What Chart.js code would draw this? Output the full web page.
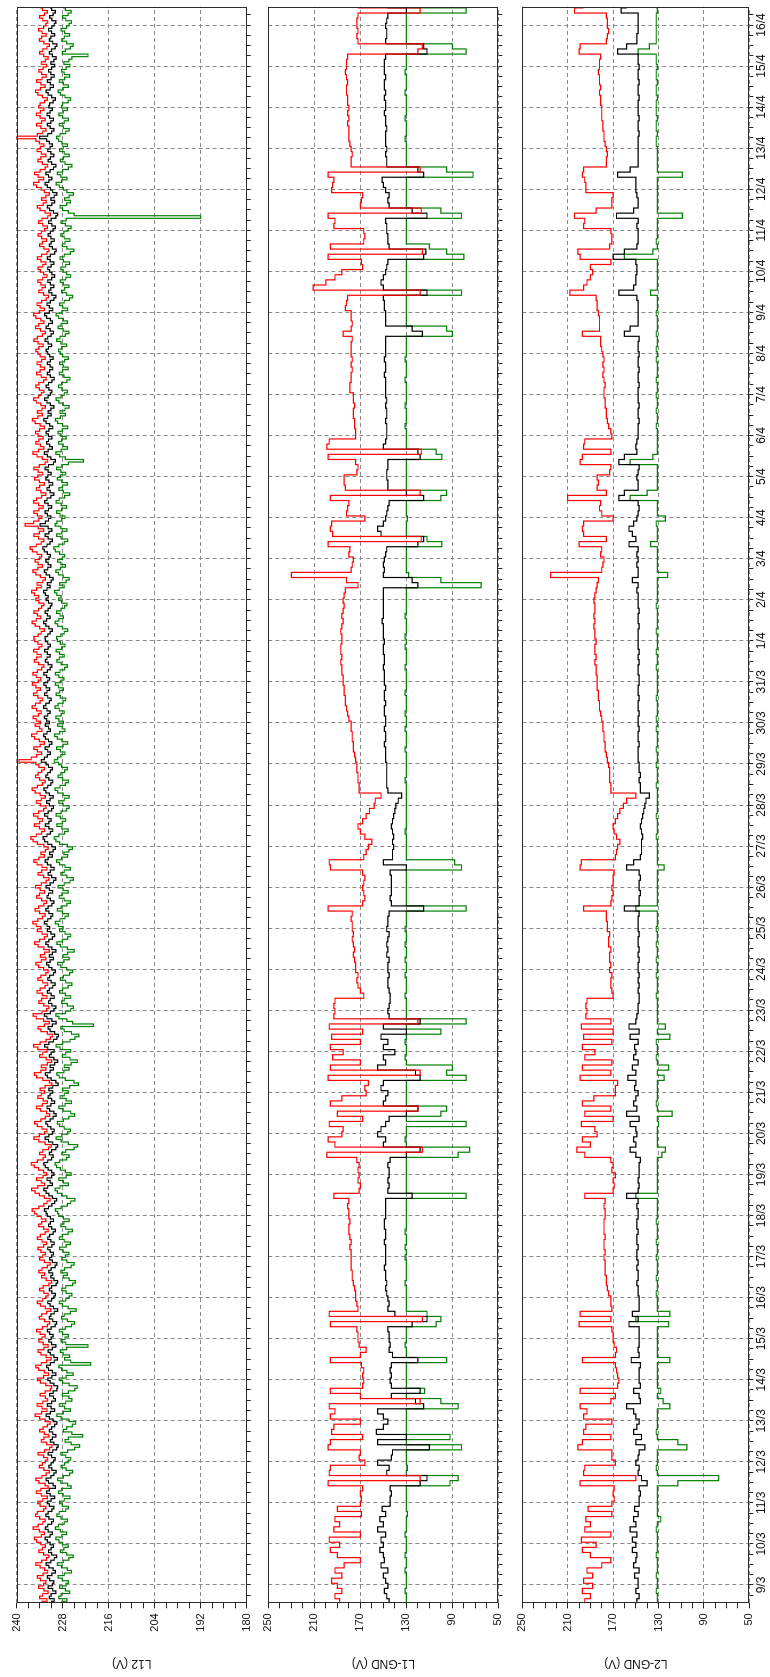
<!DOCTYPE html>
<html><head><meta charset="utf-8">
<script src="https://cdn.jsdelivr.net/npm/chart.js@4.4.1/dist/chart.umd.min.js"></script>
<style>
html,body{margin:0;padding:0;background:#fff;overflow:hidden;width:770px;height:1677px}
#rot{position:absolute;left:0;top:0;width:1677px;height:770px;transform-origin:0 0;transform:translate(0,1677px) rotate(-90deg);background:#fff}
#rot canvas{position:absolute;left:0;top:0}
</style></head><body>
<div id="rot">
<canvas id="c3" width="1677" height="770"></canvas>
<canvas id="c2" width="1677" height="770"></canvas>
<canvas id="c1" width="1677" height="770"></canvas>
</div>
<script>
// time: hours since 8/3 00:00; first sample 8/3 13:00
const START_HOUR = 13;
const L12_STEP_HOURS = 1.5;   // L12 samples every 1.5 h
const GND_STEP_HOURS = 3;     // L1-GND / L2-GND samples every 3 h
const dayLabels = ['9/3','10/3','11/3','12/3','13/3','14/3','15/3','16/3','17/3','18/3','19/3','20/3','21/3','22/3','23/3','24/3','25/3','26/3','27/3','28/3','29/3','30/3','31/3',
  '1/4','2/4','3/4','4/4','5/4','6/4','7/4','8/4','9/4','10/4','11/4','12/4','13/4','14/4','15/4','16/4'];
const l12Ticks = [240, 228, 216, 204, 192, 180];
const gndTicks = [250, 210, 170, 130, 90, 50];

// ---- L12 (V) ---- one row per day
const l12Red = [
233.4,232.1,234.0,233.2,231.8,232.9,234.3,233.0,
232.4,233.8,234.6,233.1,231.9,232.7,233.9,235.0,233.5,232.2,231.6,233.0,234.2,233.3,232.5,233.7,
234.8,235.4,233.6,232.8,234.1,235.7,234.4,233.2,232.6,234.0,235.1,234.6,233.0,232.4,233.9,234.5,
233.2,232.0,233.6,234.9,233.7,231.8,232.6,234.2,235.0,233.4,232.3,231.5,232.9,234.1,233.3,232.5,
231.9,233.0,234.4,232.7,231.4,230.8,232.2,233.6,232.9,231.6,232.8,234.0,233.1,232.0,231.3,232.6,
234.0,235.2,233.5,232.1,233.4,234.7,233.2,231.9,232.5,233.9,232.6,231.2,230.9,232.4,233.8,234.6,
233.0,231.7,232.8,234.3,235.0,233.6,232.2,231.0,232.3,233.7,234.4,232.9,231.8,233.1,234.2,233.4,
232.6,233.9,234.8,233.3,232.0,231.4,232.7,234.1,233.5,232.2,231.1,232.5,233.8,234.6,233.2,232.4,
231.8,232.9,234.0,233.1,231.6,230.9,232.3,233.5,232.7,234.2,233.4,232.0,231.3,232.8,234.0,233.2,
232.5,233.7,234.5,233.0,232.2,233.4,234.6,233.8,232.6,231.8,233.0,234.3,233.5,232.4,233.6,234.7,
235.3,236.0,234.2,232.9,232.1,231.3,232.8,234.1,235.2,236.1,234.5,232.7,233.6,234.8,233.1,232.2,
233.0,234.3,235.4,236.2,234.6,233.1,232.5,234.0,233.2,231.7,231.0,232.6,234.2,235.5,234.1,232.8,
232.1,233.4,234.6,235.3,233.7,232.5,231.4,232.2,233.8,234.9,233.3,232.0,233.1,234.5,233.6,232.7,
233.9,232.6,230.8,231.5,233.2,234.8,235.4,233.7,232.4,233.6,232.0,230.9,232.3,234.0,233.2,232.1,
234.5,235.6,233.9,232.3,231.2,230.6,232.0,233.7,234.4,232.8,231.5,233.0,234.9,235.7,233.4,232.2,
231.6,232.9,234.2,233.5,232.1,233.3,234.7,233.9,232.6,231.9,233.2,234.5,233.7,232.4,231.8,233.0,
234.3,235.0,233.6,232.4,233.8,232.7,231.5,232.9,234.4,235.3,234.0,232.8,232.0,233.4,234.6,233.7,
234.9,235.8,234.5,233.3,232.6,234.0,235.2,234.3,232.9,232.2,233.5,234.8,234.1,232.7,233.9,235.1,
233.6,232.3,231.6,233.0,234.4,233.5,232.1,233.4,234.7,235.5,234.2,232.8,233.7,232.5,231.8,232.9,
234.6,235.7,236.3,234.9,233.5,232.7,234.1,235.4,234.0,233.2,234.5,235.6,234.3,233.0,232.4,233.8,
234.9,233.6,232.5,233.9,235.2,236.0,234.6,233.3,232.6,234.0,235.1,234.4,233.5,232.8,234.2,235.0,
239.4,236.2,234.8,233.5,234.6,235.5,233.9,232.8,234.1,235.3,236.1,234.7,233.4,234.0,235.2,233.8,
234.9,235.7,234.3,233.6,234.8,236.0,235.1,233.9,233.2,234.5,235.6,234.7,233.8,235.0,235.9,234.4,
233.7,234.9,235.8,234.6,233.5,232.9,234.3,235.4,234.8,233.6,234.7,235.6,234.2,233.4,234.5,235.3,
235.5,234.4,233.6,232.8,234.0,235.2,236.0,234.9,233.7,234.6,235.5,234.3,233.5,232.9,234.2,235.0,
234.3,235.4,236.1,234.8,233.6,234.7,233.2,232.5,233.8,235.0,235.8,234.5,233.3,234.4,235.2,234.0,
233.5,234.7,235.9,236.5,234.9,233.6,232.9,234.3,235.5,234.1,233.0,234.4,237.8,235.6,234.2,233.4,
234.6,235.5,234.2,233.1,234.3,235.6,234.8,233.5,232.4,233.7,234.9,234.0,232.8,234.1,235.3,234.5,
233.2,234.4,235.5,234.1,232.6,231.9,233.3,234.7,235.8,234.3,232.9,233.8,235.0,234.2,233.1,234.4,
235.1,234.0,232.8,233.9,235.2,235.9,234.5,233.3,234.6,233.4,232.5,233.7,234.9,235.6,234.3,233.6,
232.9,234.1,235.0,234.2,233.0,232.3,233.6,234.8,233.9,232.7,233.8,234.7,233.5,232.6,233.9,234.5,
235.0,234.2,233.1,234.4,235.5,234.6,233.3,232.5,233.8,235.1,234.3,232.9,233.7,235.0,235.6,234.1,
232.8,233.9,234.7,233.5,232.3,231.7,233.0,234.2,233.4,232.5,233.7,234.5,233.2,232.1,233.0,233.8,
234.4,233.2,232.4,233.7,234.6,233.5,232.1,231.6,232.9,234.0,233.3,232.2,233.5,234.4,233.6,232.7,
232.0,233.2,234.3,233.4,231.9,231.2,232.6,233.9,234.6,233.1,232.3,233.5,232.4,231.5,232.8,233.6,
234.8,235.6,234.2,233.0,234.4,235.3,233.9,232.6,231.9,233.3,234.5,233.7,232.4,233.6,234.7,233.8,
232.9,234.1,235.0,240.0,234.6,233.2,232.4,233.7,234.8,233.5,232.6,233.9,234.9,233.8,232.9,234.2,
233.9,232.7,232.0,233.3,234.5,235.1,233.8,232.6,233.7,234.8,233.4,232.3,233.5,234.2,233.1,232.2,
233.6,232.5,231.8,233.0,234.0,233.2,232.1,231.5,232.9,234.1,233.5,232.3,233.4,234.3,233.0,232.4,
231.9,233.2,234.0,232.8,232.0,233.3,233.9];
const l12Black = [
230.9,230.2,231.5,231.0,229.8,230.6,231.8,230.7,
230.3,231.4,232.0,230.8,229.9,230.5,231.6,232.3,231.1,230.2,229.6,230.9,231.7,231.0,230.4,231.3,
232.0,232.6,231.3,230.7,231.8,232.5,231.9,230.9,230.4,231.6,232.4,231.8,230.8,230.3,231.5,232.0,
231.0,230.1,231.3,232.2,231.5,229.9,230.5,231.7,232.3,231.1,230.3,229.7,230.8,231.6,231.0,230.4,
230.0,230.9,231.8,230.6,229.6,229.2,230.3,231.2,230.7,229.8,230.6,231.5,230.9,230.1,229.5,230.5,
231.5,232.3,231.2,230.1,231.0,232.0,230.9,229.9,230.4,231.4,230.5,229.5,229.3,230.3,231.3,231.9,
230.8,229.8,230.7,231.7,232.2,231.2,230.2,229.4,230.3,231.2,231.8,230.7,229.8,230.9,231.6,231.0,
230.5,231.4,232.0,231.0,230.0,229.6,230.6,231.5,231.1,230.2,229.3,230.4,231.3,231.9,230.9,230.3,
229.9,230.8,231.5,230.9,229.7,229.3,230.3,231.1,230.6,231.6,231.0,230.0,229.5,230.7,231.4,230.9,
230.4,231.3,231.9,230.8,230.2,231.1,231.9,231.4,230.5,229.9,230.9,231.7,231.2,230.4,231.2,232.0,
232.3,232.8,231.7,230.8,230.1,229.6,230.7,231.6,232.3,232.9,231.9,230.7,231.3,232.1,230.9,230.3,
230.9,231.8,232.5,232.9,231.9,230.9,230.5,231.5,230.9,229.8,229.3,230.6,231.7,232.6,231.6,230.7,
230.2,231.1,231.9,232.4,231.3,230.5,229.7,230.3,231.4,232.1,231.1,230.1,230.9,231.8,231.3,230.6,
231.6,230.6,229.2,229.8,231.0,232.0,232.5,231.3,230.4,231.3,230.1,229.3,230.3,231.5,231.0,230.2,
231.9,232.7,231.6,230.4,229.5,229.1,230.1,231.3,231.8,230.7,229.7,230.8,232.1,232.8,231.2,230.3,
229.8,230.8,231.7,231.3,230.2,231.0,232.0,231.5,230.6,230.0,231.0,231.9,231.4,230.4,229.9,230.8,
231.6,232.2,231.3,230.4,231.5,230.7,229.8,230.8,231.8,232.4,231.6,230.7,230.1,231.1,232.0,231.4,
232.1,232.8,231.9,231.1,230.6,231.6,232.4,231.8,230.8,230.3,231.2,232.1,231.7,230.6,231.5,232.3,
231.3,230.4,229.8,230.9,231.8,231.2,230.2,231.1,232.0,232.6,231.8,230.7,231.4,230.5,229.9,230.8,
231.9,232.7,233.1,232.1,231.2,230.6,231.6,232.5,231.6,231.0,231.9,232.7,231.8,230.9,230.4,231.5,
232.2,231.3,230.5,231.5,232.4,232.9,231.9,231.1,230.6,231.6,232.4,231.9,231.2,230.7,231.7,232.3,
233.6,232.8,232.0,231.2,231.9,232.6,231.5,230.8,231.7,232.5,233.0,232.1,231.2,231.7,232.5,231.5,
232.2,232.8,231.9,231.3,232.1,233.0,232.4,231.5,231.0,231.9,232.7,232.1,231.4,232.3,232.9,231.9,
231.4,232.2,232.9,232.0,231.3,230.8,231.8,232.5,232.1,231.3,232.0,232.7,231.8,231.2,231.9,232.5,
232.6,231.9,231.3,230.7,231.6,232.4,233.0,232.2,231.3,232.0,232.6,231.8,231.2,230.8,231.7,232.3,
231.8,232.5,233.0,232.1,231.3,232.0,231.0,230.5,231.4,232.3,232.8,231.9,231.1,231.8,232.4,231.6,
231.2,232.0,232.8,233.2,232.1,231.3,230.7,231.8,232.6,231.6,230.8,231.8,233.9,232.5,231.7,231.1,
232.0,232.6,231.7,230.9,231.8,232.7,232.1,231.1,230.3,231.3,232.1,231.5,230.6,231.6,232.4,231.9,
231.0,231.8,232.6,231.7,230.4,229.9,231.1,232.0,232.8,231.8,230.7,231.4,232.2,231.7,230.8,231.7,
232.3,231.6,230.6,231.4,232.3,232.9,231.9,231.0,231.8,231.1,230.3,231.2,232.1,232.7,231.8,231.2,
230.8,231.6,232.3,231.7,230.8,230.2,231.2,232.0,231.4,230.6,231.3,232.0,231.2,230.5,231.4,231.9,
232.3,231.7,230.9,231.8,232.6,231.9,231.0,230.4,231.3,232.3,231.7,230.7,231.2,232.2,232.7,231.5,
230.6,231.5,232.1,231.2,230.3,229.8,230.8,231.6,231.1,230.3,231.2,231.9,230.9,230.1,230.8,231.4,
231.9,231.0,230.3,231.3,232.0,231.2,230.1,229.7,230.7,231.5,231.0,230.2,231.1,231.8,231.2,230.5,
229.9,230.8,231.7,231.0,229.8,229.3,230.4,231.4,232.0,230.8,230.1,231.1,230.2,229.5,230.6,231.2,
232.0,232.6,231.6,230.8,231.7,232.4,231.3,230.4,229.8,230.9,231.8,231.2,230.3,231.1,231.9,231.3,
230.7,231.5,232.2,234.0,231.9,230.9,230.3,231.3,232.0,231.1,230.4,231.4,232.1,231.3,230.7,231.6,
231.4,230.5,229.9,230.9,231.8,232.3,231.3,230.4,231.2,232.0,231.0,230.2,231.1,231.7,230.9,230.1,
231.1,230.3,229.7,230.7,231.5,230.9,230.0,229.5,230.6,231.5,231.1,230.1,230.9,231.7,230.8,230.2,
229.8,230.8,231.4,230.5,229.9,230.9,231.3];
const l12Green = [
228.2,226.9,229.0,228.4,226.2,227.3,228.8,227.1,
226.5,228.1,229.2,227.6,225.7,226.8,228.3,229.4,227.9,226.4,225.3,227.0,228.6,227.7,226.6,228.0,
229.0,229.8,228.2,227.0,228.6,229.9,229.1,227.6,226.8,228.4,229.5,228.9,227.2,226.5,228.1,228.8,
227.6,226.1,227.9,229.1,228.3,225.8,226.7,228.5,229.3,227.8,226.2,225.4,227.1,228.4,227.5,226.6,
225.9,227.2,228.5,226.7,224.9,223.6,225.8,227.4,226.5,222.8,225.6,227.8,227.0,225.5,224.6,226.4,
228.4,229.5,227.8,226.0,227.5,228.9,227.2,225.6,226.4,228.1,226.5,224.8,224.2,226.3,228.0,228.9,
227.1,225.3,226.9,228.3,229.0,220.7,225.9,227.5,226.2,227.9,228.6,227.0,221.4,227.2,228.4,227.4,
226.5,228.0,228.9,227.3,225.7,224.9,226.8,228.3,227.6,226.0,224.5,226.6,228.1,228.9,227.2,226.3,
225.6,227.1,228.2,227.2,225.4,224.7,226.3,227.8,226.8,228.5,227.5,225.8,225.0,226.9,228.2,227.3,
226.4,227.9,228.8,227.1,226.0,227.6,228.9,228.1,226.6,225.5,227.2,228.5,227.7,226.3,227.8,229.0,
229.3,229.9,228.4,226.8,225.9,224.8,226.9,228.3,229.4,230.0,228.7,226.5,227.8,229.0,227.1,225.8,
227.3,228.6,229.6,230.0,228.8,227.0,226.3,228.2,227.2,225.0,224.1,226.5,228.4,229.7,228.2,226.7,
226.0,227.6,228.8,229.4,227.8,226.4,224.9,225.9,227.9,229.0,227.4,225.7,227.1,228.7,227.6,226.6,
228.0,226.2,223.9,225.1,227.3,228.9,229.5,227.7,226.3,227.6,225.8,224.2,226.1,228.1,227.2,225.9,
228.7,229.7,228.0,226.1,224.8,223.8,225.7,227.6,228.5,220.0,225.4,226.9,229.0,229.8,227.3,225.9,
225.2,226.8,228.3,227.6,225.9,227.3,228.8,228.0,226.6,225.6,227.2,228.6,227.8,226.2,225.4,227.0,
228.5,229.3,227.7,226.3,227.9,226.7,225.0,226.8,228.6,229.5,228.1,226.7,225.9,227.4,228.8,227.9,
229.1,229.9,228.7,227.4,226.5,228.1,229.4,228.4,226.9,226.0,227.6,228.9,228.2,226.6,227.9,229.2,
227.6,226.1,225.2,226.9,228.5,227.6,226.0,227.4,228.8,229.6,228.3,226.7,227.7,226.4,225.5,226.8,
228.8,229.8,230.2,229.0,227.5,226.6,228.2,229.5,228.1,227.2,228.6,229.7,228.4,227.0,226.3,227.9,
229.0,227.6,226.3,227.9,229.3,230.0,228.7,227.3,226.5,228.0,229.2,228.5,227.5,226.8,228.3,229.1,
230.2,229.3,228.5,227.4,228.6,229.6,227.9,226.7,228.2,229.4,230.1,228.8,227.4,228.1,229.3,227.8,
229.0,229.8,228.4,227.6,228.9,230.0,229.2,227.9,227.2,228.6,229.7,228.8,227.8,229.1,229.9,228.5,
227.7,229.0,229.9,228.7,227.5,226.8,228.4,229.5,228.9,227.6,228.8,229.7,228.3,227.4,228.6,229.4,
229.6,228.5,227.6,226.7,228.1,229.3,230.0,229.0,227.8,228.7,229.6,228.4,227.5,226.9,228.3,229.1,
228.4,229.5,230.1,228.9,227.6,228.8,227.1,226.3,227.9,229.1,229.8,228.6,227.3,228.5,229.3,228.1,
227.5,228.8,229.9,230.3,229.0,227.6,226.7,228.4,229.6,228.2,226.9,228.5,230.0,229.5,228.3,227.4,
228.7,229.6,228.3,227.0,228.4,229.7,228.9,227.5,226.2,227.8,229.0,228.1,226.8,228.2,229.4,228.6,
227.2,228.5,229.6,228.2,226.5,222.6,227.3,228.8,229.8,228.4,226.8,227.9,229.1,228.3,227.1,228.5,
229.2,228.1,226.7,228.0,229.3,229.9,228.6,227.3,228.7,227.4,226.3,227.8,229.0,229.7,228.4,227.6,
226.8,228.2,229.1,228.3,226.9,226.1,227.7,228.9,228.0,226.6,227.9,228.8,227.5,226.5,228.0,228.6,
229.1,228.3,227.0,228.5,229.6,228.7,227.3,226.4,227.9,229.2,228.4,226.8,227.8,229.1,229.7,228.2,
226.7,228.0,228.8,227.6,226.2,225.4,227.0,228.3,227.5,226.4,227.8,228.6,227.2,225.9,227.0,227.9,
228.5,227.2,226.2,227.8,228.7,227.6,226.0,225.1,226.9,228.1,227.4,226.1,227.6,228.5,227.7,226.6,
225.8,227.3,228.4,227.1,192.0,225.0,226.5,228.0,228.7,227.0,226.0,227.5,226.3,225.2,226.9,227.8,
228.9,229.7,228.3,226.9,228.5,229.4,228.0,226.5,225.6,227.4,228.6,227.8,226.3,227.6,228.8,227.9,
226.8,228.2,229.1,229.6,228.7,227.2,226.3,227.8,228.9,227.6,226.5,228.0,229.0,227.9,226.8,228.3,
228.0,226.6,225.9,227.4,228.6,229.2,227.9,226.5,227.8,228.9,227.5,226.2,227.6,228.3,227.1,226.1,
227.7,226.4,225.6,221.4,228.1,227.3,226.0,225.3,227.0,228.2,227.6,226.2,227.5,228.4,227.0,226.3,
225.7,227.2,228.0,226.6,225.8,227.3,227.9];

// ---- L1-GND (V) ---- one row per day
const l1Red = [
188,192,186,190,
195,186,192,184,170,190,196,188,
197,170,193,188,192,169,190,170,
169,170,168,198,118,197,196,166,
171,170,198,196,168,195,193,170,
196,192,197,118,170,196,168,167,
168,167,169,196,170,165,171,172,
172,173,196,116,197,172,173,174,
174,175,176,177,177,178,178,178,
178,179,178,179,180,180,179,180,
180,181,180,193,171,170,172,171,
172,171,173,199,116,192,198,186,
185,197,168,190,120,196,186,165,
166,163,198,118,196,170,194,185,
196,170,195,168,197,120,193,192,
193,192,167,170,172,173,172,174,
174,175,176,175,176,177,176,177,
177,178,177,198,168,166,167,168,
167,166,168,196,197,167,165,163,
160,166,170,172,168,165,162,158,
157,152,171,171,172,172,173,173,
174,175,176,176,177,177,178,178,
180,181,182,183,183,184,184,185,
185,186,186,187,186,187,187,186,
186,187,186,185,186,185,184,185,
184,183,172,182,230,178,177,176,
180,179,198,117,194,196,195,166,
182,181,180,196,118,183,184,184,
173,172,174,198,117,199,197,174,
174,175,175,176,176,175,176,176,
179,179,178,178,177,178,177,178,
178,178,177,185,178,177,178,178,
183,182,181,118,211,200,192,186,
168,169,198,116,196,167,166,167,
193,192,198,117,170,169,168,195,
194,193,198,118,178,178,177,178,
179,180,180,180,181,180,181,180,
181,181,182,182,181,182,183,182,
182,181,120,116,172,173,172,173,
173,172,118,172];
const l1Black = [
145,147,149,146,
148,150,146,152,149,150,153,150,
152,148,155,150,153,148,151,144,
144,143,144,118,112,147,145,155,
143,142,110,155,130,156,150,146,
150,155,115,122,143,118,143,144,
143,144,143,120,142,145,144,145,
145,146,125,112,140,146,145,146,
147,148,147,148,148,149,148,148,
148,148,149,148,148,149,149,148,
148,148,148,125,146,145,146,145,
145,146,144,130,118,150,148,155,
152,148,145,130,120,150,148,146,
152,150,118,122,155,148,150,140,
150,146,152,130,150,118,145,146,
145,144,144,145,146,146,145,146,
146,145,147,146,147,146,145,147,
146,146,145,115,143,144,143,143,
143,143,144,130,150,142,142,141,
142,141,142,143,142,141,140,139,
137,134,146,147,147,147,147,147,
148,148,148,149,148,148,149,148,
148,149,149,148,149,149,148,149,
149,149,150,149,149,150,150,149,
150,150,150,151,150,150,150,150,
150,150,120,125,150,149,150,149,
148,147,120,115,152,155,150,148,
147,146,145,115,130,146,146,147,
147,146,146,118,120,150,148,147,
147,147,148,147,147,148,147,148,
148,148,148,149,148,148,149,148,
148,148,148,116,125,148,148,148,
149,149,150,112,150,152,150,148,
147,146,115,113,145,146,146,147,
147,148,112,125,145,146,145,148,
150,151,115,120,147,147,148,147,
148,148,148,147,148,148,149,148,
148,149,148,149,149,148,149,149,
149,148,112,115,148,147,147,148,
147,146,130,146];
const l1Green = [
130,130,131,130,
130,130,131,130,130,131,130,130,
130,131,130,130,130,129,130,130,
130,130,130,92,85,130,129,130,
130,130,82,130,92,130,130,130,
130,130,85,100,130,114,130,130,
130,130,130,95,130,130,131,130,
130,130,104,100,112,130,130,130,
130,130,131,130,130,130,130,131,
130,131,130,130,131,130,130,130,
130,130,130,78,130,130,130,130,
130,130,130,85,75,130,131,130,
130,78,130,100,95,130,130,130,
130,130,78,95,90,130,131,130,
130,131,130,100,130,78,130,130,
130,130,131,130,130,130,131,130,
130,131,130,130,131,130,130,131,
130,130,130,78,130,130,130,130,
130,130,130,82,88,130,130,130,
130,130,131,130,130,130,130,130,
130,130,130,130,131,130,130,130,
130,130,131,130,130,130,131,130,
130,131,130,130,130,131,130,130,
130,130,131,130,130,130,131,130,
131,130,130,130,131,130,130,130,
130,130,65,100,128,130,130,130,
130,130,99,112,130,130,130,129,
130,130,130,100,95,130,130,130,
130,130,130,99,104,130,130,130,
130,131,130,130,130,131,130,130,
130,130,131,130,130,130,131,130,
130,130,130,90,95,130,130,130,
130,130,130,82,130,130,130,130,
130,130,80,95,110,130,130,130,
130,130,82,100,130,130,130,130,
130,130,72,95,130,130,130,130,
130,131,130,130,130,131,130,130,
130,130,131,130,130,130,131,130,
130,130,78,90,130,130,130,130,
130,130,78,130];

// ---- L2-GND (V) ---- one row per day
const l2Red = [
195,190,197,188,
196,188,193,180,172,190,197,185,
198,172,195,190,194,171,192,171,
169,170,169,199,150,196,195,168,
171,171,201,197,172,196,194,171,
196,193,199,172,168,199,166,165,
166,167,168,197,168,167,169,170,
170,171,200,172,199,171,172,172,
174,175,176,176,177,177,177,178,
177,178,178,177,178,178,178,177,
177,178,177,195,170,169,170,168,
171,170,172,195,202,190,197,184,
186,198,170,195,172,197,187,168,
168,166,199,172,197,171,195,186,
197,171,196,170,198,172,194,193,
194,193,170,171,172,172,171,173,
172,173,173,172,174,174,173,175,
175,176,176,196,172,171,170,171,
170,170,169,199,198,168,167,166,
164,167,169,170,168,166,164,161,
158,150,172,172,173,173,173,174,
175,176,177,177,178,178,179,179,
180,181,182,182,183,183,184,184,
184,185,185,186,185,186,186,185,
186,186,187,186,187,186,186,187,
186,185,184,183,225,180,179,178,
181,180,200,176,196,197,196,170,
180,182,181,210,176,184,183,184,
173,172,199,197,172,196,195,171,
172,174,175,176,176,177,177,178,
178,177,178,179,178,179,178,179,
180,181,181,197,182,182,182,183,
184,184,185,208,196,193,190,188,
190,172,199,201,173,171,171,172,
196,195,204,185,171,171,170,194,
194,195,197,196,176,176,175,176,
177,178,178,179,179,180,180,180,
181,181,182,181,182,182,183,182,
182,181,200,199,176,175,174,175,
175,176,204,196];
const l2Black = [
149,147,150,148,
148,151,147,152,150,149,153,150,
153,149,155,150,152,148,151,147,
147,146,147,140,145,148,147,150,
148,147,142,150,145,152,149,147,
150,152,158,146,147,152,146,147,
147,147,146,154,147,148,147,147,
147,147,156,148,153,147,147,147,
148,148,149,148,148,149,148,149,
149,148,149,149,148,149,149,148,
148,149,148,158,148,147,148,147,
147,147,146,150,155,150,152,149,
150,155,147,158,149,152,150,148,
151,150,157,150,153,148,152,150,
151,148,155,147,156,150,149,148,
148,147,147,148,147,148,147,148,
148,147,148,147,148,148,147,148,
148,148,147,160,147,147,146,147,
147,146,147,158,152,146,145,145,
145,144,145,146,145,144,143,142,
141,138,146,146,147,146,147,147,
148,148,148,147,148,148,147,148,
148,147,148,148,147,148,148,147,
147,148,148,147,148,147,148,148,
148,148,147,148,148,147,148,148,
148,149,148,153,148,148,149,148,
149,148,156,150,153,156,152,149,
148,147,148,165,160,148,148,149,
148,147,165,160,149,150,149,148,
148,148,147,148,148,147,148,148,
148,147,148,148,147,148,148,147,
148,148,147,160,155,148,148,148,
148,148,149,165,152,150,150,149,
149,150,170,160,149,148,148,148,
149,148,167,152,148,148,149,150,
150,150,166,155,148,148,148,148,
148,148,147,148,148,147,148,148,
148,147,148,148,147,148,148,147,
148,148,166,158,149,149,148,148,
148,148,163,158];
const l2Green = [
131,131,132,131,
131,132,131,131,131,132,131,131,
131,131,132,131,128,131,131,131,
131,131,131,113,77,131,132,131,
131,131,105,113,131,132,131,131,
131,131,120,126,131,128,131,131,
131,131,131,120,131,131,131,131,
131,131,121,150,120,131,131,131,
132,131,131,132,131,131,131,132,
131,131,132,131,131,131,132,131,
131,131,131,150,131,131,131,131,
131,131,131,127,124,131,131,131,
131,130,131,118,131,132,131,131,
131,131,125,131,121,131,132,131,
131,132,120,131,124,131,131,131,
131,131,132,131,131,131,132,131,
131,132,131,131,132,131,131,132,
131,131,131,150,131,131,131,131,
131,131,131,125,131,131,131,131,
131,132,131,131,131,132,131,131,
131,131,131,132,131,131,131,132,
131,131,132,131,131,131,132,131,
132,131,131,131,132,131,131,131,
131,131,132,131,131,132,131,131,
131,132,131,131,131,131,132,131,
131,131,131,131,122,131,131,131,
131,131,137,131,131,131,132,124,
131,131,131,155,140,131,131,131,
131,131,155,135,131,131,131,131,
131,132,131,131,132,131,131,132,
131,131,132,131,131,131,132,131,
132,131,131,132,131,131,131,132,
131,131,131,137,131,131,131,131,
131,131,160,135,131,132,131,131,
131,131,109,131,131,131,131,131,
131,131,109,131,131,131,131,131,
132,132,131,132,132,131,132,132,
132,131,132,132,131,132,132,131,
132,132,148,138,132,132,132,132,
132,132,131,132];

// ---------- drawing ----------
const GRID = '#8a8a8a';
const FONT = "'Liberation Sans', Arial, sans-serif";
const H = 770;

const frame = {
  id: 'frame',
  afterDraw(chart) {
    const a = chart.chartArea, ctx = chart.ctx;
    ctx.save();
    ctx.strokeStyle = '#2a2a2a';
    ctx.lineWidth = 1;
    const l = Math.round(a.left) + 0.5, t = Math.round(a.top) + 0.5;
    const r = Math.round(a.right) - 0.5, b = Math.round(a.bottom) - 0.5;
    ctx.strokeRect(l, t, r - l, b - t);
    ctx.restore();
  }
};

function makePanel(id, cfg) {
  const colors = ['#ff0000', '#000000', '#008000'];
  const datasets = cfg.series.map((vals, k) => ({
    data: vals.map((v, i) => ({ x: START_HOUR + cfg.step * i, y: v })),
    borderColor: colors[k], borderWidth: 1.2, pointRadius: 0, stepped: true, fill: false
  }));
  const majors = cfg.ticks;
  const isMajor = v => majors.indexOf(v) >= 0;
  return new Chart(document.getElementById(id), {
    type: 'line',
    data: { datasets },
    plugins: [frame],
    options: {
      responsive: false, animation: false, events: [],
      layout: { padding: { left: 0, right: 6.7, top: cfg.top, bottom: H - cfg.bottom - cfg.xh } },
      plugins: { legend: { display: false }, tooltip: { enabled: false }, title: { display: false } },
      scales: {
        x: {
          type: 'linear', min: 13.3, max: 946.7,
          afterBuildTicks: s => { const t = []; for (let h = 18; h <= 946; h += 6) t.push({ value: h }); s.ticks = t; },
          afterFit: s => { s.height = cfg.xh; },
          grid: {
            color: c => (c.tick && c.tick.value % 24 === 0) ? GRID : 'rgba(0,0,0,0)',
            lineWidth: 1, drawTicks: true, tickLength: 4, tickColor: '#222', tickWidth: 1, tickBorderDash: []
          },
          border: { display: false, dash: [4, 3] },
          ticks: {
            display: cfg.showX, autoSkip: false, maxRotation: 0, minRotation: 0, padding: 1,
            color: '#111', font: { family: FONT, size: 12 },
            callback: v => (v % 24 === 0) ? dayLabels[v / 24 - 1] : ''
          }
        },
        y: {
          min: cfg.min, max: cfg.max,
          afterBuildTicks: s => { const t = []; for (let v = cfg.min; v <= cfg.max; v += cfg.minor) t.push({ value: v }); s.ticks = t; },
          afterFit: s => { s.width = 73.7; },
          grid: {
            color: c => (c.tick && isMajor(c.tick.value)) ? GRID : 'rgba(0,0,0,0)',
            lineWidth: 1, drawTicks: true, tickLength: 5, tickColor: '#222', tickWidth: 1, tickBorderDash: []
          },
          border: { display: false, dash: [4, 3] },
          ticks: {
            autoSkip: false, padding: 5, color: '#111', font: { family: FONT, size: 11 },
            callback: v => isMajor(v) ? String(v) : ''
          },
          title: {
            display: true, text: cfg.title, color: '#111',
            font: { family: FONT, size: 12 }, padding: { top: 6.8, bottom: 0 }
          }
        }
      }
    }
  });
}

makePanel('c1', { series: [l12Red, l12Black, l12Green], step: L12_STEP_HOURS, ticks: l12Ticks, min: 180, max: 240, minor: 3,
  title: 'L12 (V)', top: 16.7, bottom: 246.7, xh: 5, showX: false });
makePanel('c2', { series: [l1Red, l1Black, l1Green], step: GND_STEP_HOURS, ticks: gndTicks, min: 50, max: 250, minor: 10,
  title: 'L1-GND (V)', top: 268.3, bottom: 498.3, xh: 5, showX: false });
makePanel('c3', { series: [l2Red, l2Black, l2Green], step: GND_STEP_HOURS, ticks: gndTicks, min: 50, max: 250, minor: 10,
  title: 'L2-GND (V)', top: 522.3, bottom: 749.3, xh: 20, showX: true });
</script>
</body></html>
